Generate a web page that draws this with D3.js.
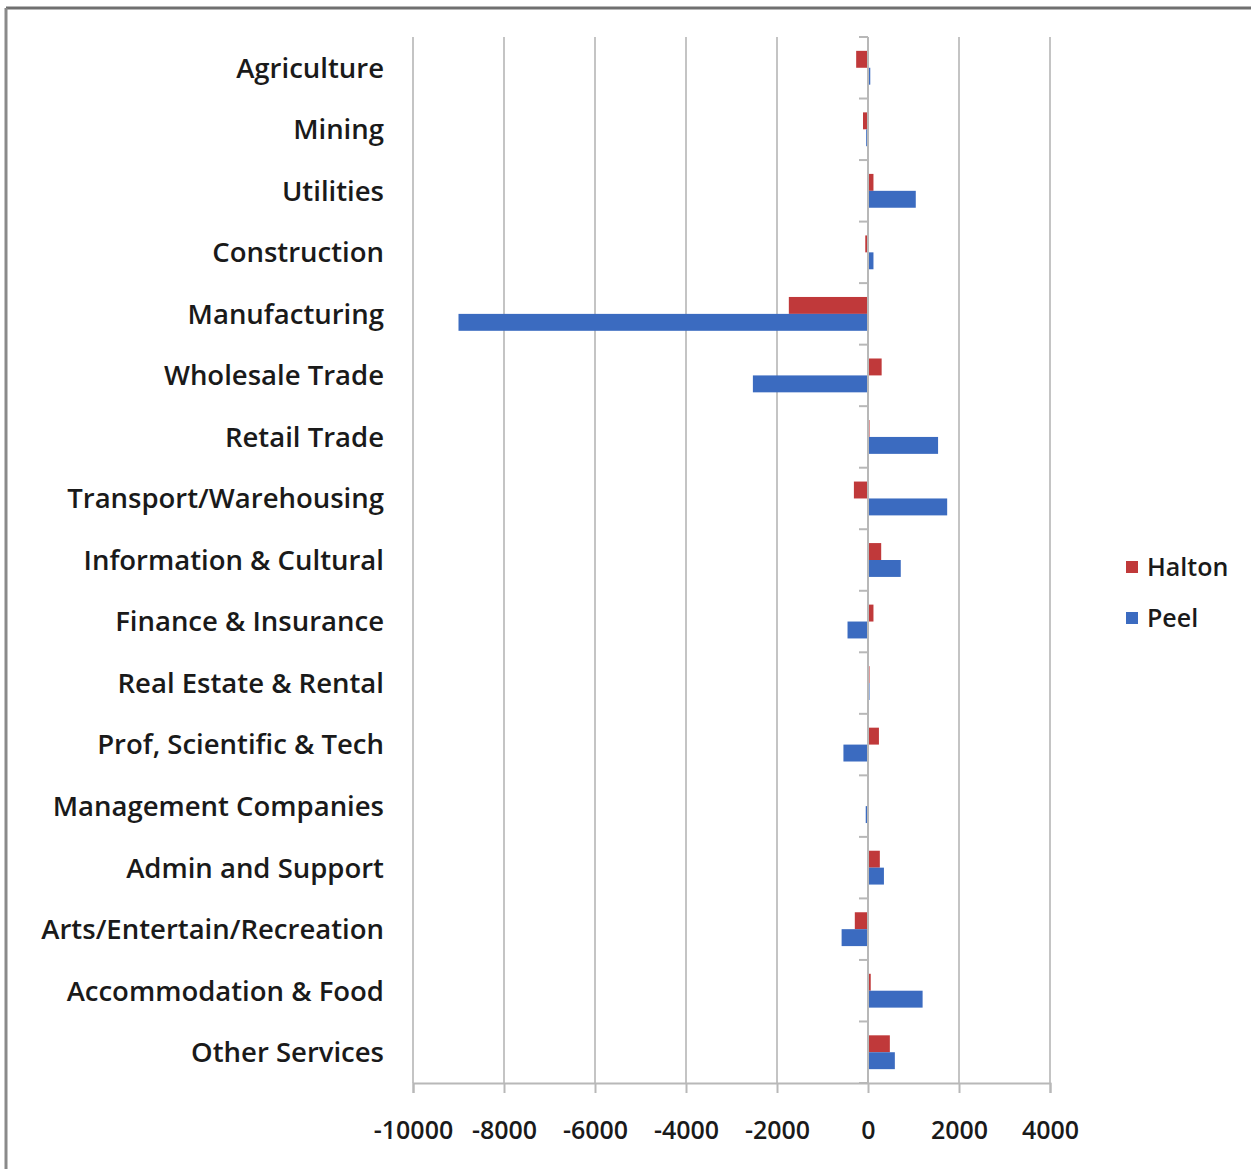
<!DOCTYPE html>
<html>
<head>
<meta charset="utf-8">
<script src="https://cdn.jsdelivr.net/npm/d3@7"></script>
<style>
  html, body { margin: 0; padding: 0; background: #fff; }
  svg { display: block; }
  text { font-family: "Open Sans", "DejaVu Sans", sans-serif; fill: #1a1a1a; }
</style>
</head>
<body>
<script>
// Industries, top to bottom
const categories = [
  "Agriculture", "Mining", "Utilities", "Construction", "Manufacturing",
  "Wholesale Trade", "Retail Trade", "Transport/Warehousing",
  "Information & Cultural", "Finance & Insurance", "Real Estate & Rental",
  "Prof, Scientific & Tech", "Management Companies", "Admin and Support",
  "Arts/Entertain/Recreation", "Accommodation & Food", "Other Services"
];

const seriesNames = ["Halton", "Peel"];
const seriesColors = ["#c0393a", "#3b6bc0"];

// Employment change by industry
const haltonValues = [-260, -110, 120, -60, -1740, 300, 20, -310, 290, 120, 20, 240, 0, 260, -290, 60, 480];
const peelValues   = [50, -40, 1050, 120, -9000, -2530, 1540, 1740, 720, -450, 20, -540, -50, 350, -580, 1200, 590];

const xTicks = [-10000, -8000, -6000, -4000, -2000, 0, 2000, 4000];

const W = 1251, H = 1169;
const plot = { left: 413, right: 1050, top: 37, bottom: 1083 };

const svg = d3.select("body").append("svg").attr("width", W).attr("height", H);

// outer frame (top and left edges)
svg.append("line").attr("x1", 6).attr("x2", W).attr("y1", 8).attr("y2", 8)
  .attr("stroke", "#707070").attr("stroke-width", 3);
svg.append("line").attr("x1", 6).attr("x2", 6).attr("y1", 8).attr("y2", H)
  .attr("stroke", "#8a8a8a").attr("stroke-width", 3);

const x = d3.scaleLinear().domain([-10000, 4000]).range([plot.left, plot.right]);
const y = d3.scaleBand().domain(categories).range([plot.top, plot.bottom]).paddingInner(0.45).paddingOuter(0.225);
const ySub = d3.scaleBand().domain(seriesNames).range([0, y.bandwidth()]);
const step = y.step();

// vertical gridlines
svg.append("g").selectAll("line").data(xTicks).join("line")
  .attr("x1", d => x(d)).attr("x2", d => x(d))
  .attr("y1", plot.top).attr("y2", plot.bottom)
  .attr("stroke", "#c4c4c4").attr("stroke-width", 2);

// bars
const rows = categories.map((c, i) => ({ cat: c, vals: [haltonValues[i], peelValues[i]] }));
const groups = svg.append("g").selectAll("g").data(rows).join("g")
  .attr("transform", d => `translate(0,${y(d.cat)})`);
groups.selectAll("rect").data(d => d.vals.map((v, j) => ({ v, s: seriesNames[j], c: seriesColors[j] })))
  .join("rect")
  .attr("x", d => Math.min(x(0), x(d.v)))
  .attr("width", d => Math.max(Math.abs(x(d.v) - x(0)), d.v === 0 ? 0 : 1.5))
  .attr("y", d => ySub(d.s))
  .attr("height", ySub.bandwidth())
  .attr("fill", d => d.c);

// category axis at zero with tick marks between categories
svg.append("line").attr("x1", x(0)).attr("x2", x(0)).attr("y1", plot.top).attr("y2", plot.bottom)
  .attr("stroke", "#b8b8b8").attr("stroke-width", 2);
const boundaries = d3.range(categories.length + 1).map(i => plot.top + i * step);
svg.append("g").selectAll("line").data(boundaries).join("line")
  .attr("x1", x(0) - 9).attr("x2", x(0)).attr("y1", d => d).attr("y2", d => d)
  .attr("stroke", "#b8b8b8").attr("stroke-width", 2);

// value axis
const xAxis = svg.append("g").attr("transform", `translate(0,${plot.bottom})`)
  .call(d3.axisBottom(x).tickValues(xTicks).tickSize(10).tickPadding(28).tickFormat(d3.format("d")));
xAxis.select(".domain").attr("stroke", "#b8b8b8").attr("stroke-width", 2);
xAxis.selectAll(".tick line").attr("stroke", "#b8b8b8").attr("stroke-width", 2);
xAxis.selectAll(".tick text")
  .style("font-family", '"Open Sans", sans-serif').style("font-size", "25px").style("font-weight", 600)
  .attr("fill", "#1a1a1a").text(d => d3.format("d")(d).replace("−", "-"));

// category labels
svg.append("g").selectAll("text").data(categories).join("text")
  .attr("x", 384)
  .attr("y", d => y(d) + y.bandwidth() / 2)
  .attr("dy", "0.36em")
  .attr("text-anchor", "end")
  .style("font-size", "27.5px").style("font-weight", 600)
  .text(d => d);

// legend
const legend = svg.append("g").selectAll("g").data(seriesNames).join("g")
  .attr("transform", (d, i) => `translate(1126,${567 + i * 51})`);
legend.append("rect").attr("x", 0).attr("y", -6).attr("width", 12).attr("height", 12)
  .attr("fill", (d, i) => seriesColors[i]);
legend.append("text").attr("x", 21).attr("y", 0).attr("dy", "0.36em")
  .style("font-size", "25px").style("font-weight", 600).text(d => d);
</script>
</body>
</html>
